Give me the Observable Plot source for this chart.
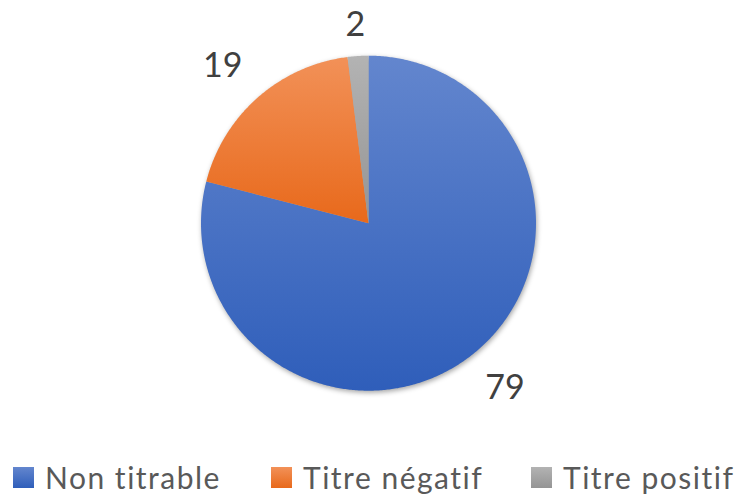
<!DOCTYPE html>
<html><head><meta charset="utf-8">
<script src="https://cdn.jsdelivr.net/npm/d3@7"></script>
<script src="https://cdn.jsdelivr.net/npm/@observablehq/plot@0.6"></script>
<style>
html,body{margin:0;padding:0;background:#fff;}
#wrap{position:relative;width:740px;height:495px;overflow:hidden;font-family:Lato,"Open Sans",sans-serif;}
#wrap svg{display:block}
.item{position:absolute;top:457px;display:flex;align-items:center;height:40px;white-space:nowrap}
.sw{width:21px;height:21px;margin-right:11px;flex:none}
.lab{font-size:30px;letter-spacing:1.5px;color:#595959;line-height:40px;font-variant-ligatures:none}
</style></head><body><div id="wrap"></div>
<script>
const categories = ["Non titrable", "Titre négatif", "Titre positif"];
const values = [79, 19, 2];
const colorsTop = ["#6386CE", "#F29158", "#B3B3B3"];
const colorsBottom = ["#2F5EBA", "#E8691B", "#949494"];
const legendLeft = [13, 271, 531];

const W = 740, H = 440;
const cx = 368, cy = 222.7, R = 167.5;
const arcs = d3.pie().sort(null).value(d => d)(values);
const pt = (a, r = 1) => [r * Math.sin(a), -r * Math.cos(a)];

const slices = arcs.map((a, i) => {
  const n = Math.max(2, Math.ceil((a.endAngle - a.startAngle) / (Math.PI / 360)));
  const ring = [[0, 0]];
  for (let k = 0; k <= n; k++) ring.push(pt(a.startAngle + (a.endAngle - a.startAngle) * k / n));
  ring.push([0, 0]);
  return {type: "Feature", properties: {i, category: categories[i], value: values[i]},
          geometry: {type: "Polygon", coordinates: [ring]}};
});
const circleRing = d3.range(0, 361).map(k => pt(k * Math.PI / 180));
const outline = {type: "Polygon", coordinates: [circleRing]};

// label placement (outside end): near corner of the label box just outside the rim,
// then kept inside the chart area (top margin), as the spreadsheet does
const fs = 34, digitW = 18.5, capH = 25, gap = 25, topLimit = 12;
const clamp = v => Math.max(-1, Math.min(1, v));
const labels = arcs.map((a, i) => {
  const m = (a.startAngle + a.endAngle) / 2;
  const [px, py] = pt(m, 1 + gap / R);
  const ux = Math.sin(m), uy = -Math.cos(m);
  const w = String(values[i]).length * digitW;
  const x = px + clamp(2 * ux) * w / 2 / R;
  let y = py + clamp(2 * uy) * capH / 2 / R;
  const yMin = (topLimit + capH / 2 - cy) / R;
  if (y < yMin) y = yMin;
  return {x, y, text: String(values[i])};
});

const defs = () => {
  const g = d3.create("svg:defs");
  colorsTop.forEach((c, i) => {
    const lg = g.append("linearGradient").attr("id", "grad" + i)
      .attr("x1", 0).attr("y1", 0).attr("x2", 0).attr("y2", 1);
    lg.append("stop").attr("offset", "0%").attr("stop-color", c);
    lg.append("stop").attr("offset", "100%").attr("stop-color", colorsBottom[i]);
  });
  return g.node();
};

const chart = Plot.plot({
  width: W, height: H,
  marginLeft: cx - R, marginRight: W - cx - R,
  marginTop: cy - R, marginBottom: H - cy - R,
  projection: {type: "identity", domain: outline, inset: 0, clip: false},
  color: {type: "identity"},
  marks: [
    defs,
    Plot.geo(slices, {fill: d => `url(#grad${d.properties.i})`, stroke: "none"}),
    Plot.text(labels, {x: "x", y: "y", text: "text", fontSize: fs, fill: "#404040",
      fontFamily: "Lato", textAnchor: "middle", lineAnchor: "middle"})
  ]
});
d3.select(chart).select('g[aria-label="geo"]').style("filter", "drop-shadow(1px 2px 2.5px rgba(0,0,0,0.35))");
const wrap = document.getElementById("wrap");
wrap.appendChild(chart);

categories.forEach((c, i) => {
  const it = document.createElement("div");
  it.className = "item";
  it.style.left = legendLeft[i] + "px";
  it.innerHTML = `<div class="sw" style="background:linear-gradient(${colorsTop[i]},${colorsBottom[i]})"></div><span class="lab">${c}</span>`;
  wrap.appendChild(it);
});
</script></body></html>
